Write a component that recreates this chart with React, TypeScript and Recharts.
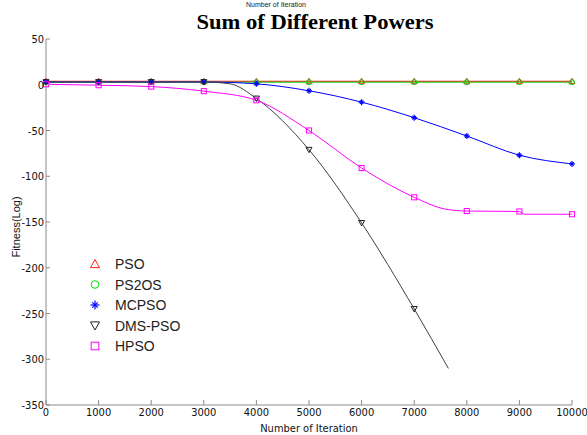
import React from "react";
import { LineChart, Line, XAxis, YAxis } from "recharts";

const title = "Sum of Different Powers";
const xAxisTitle = "Number of Iteration";
const yAxisTitle = "Fitness(Log)";

const xTicks = [0, 1000, 2000, 3000, 4000, 5000, 6000, 7000, 8000, 9000, 10000];
const yTicks = [50, 0, -50, -100, -150, -200, -250, -300, -350];

const iterations = [0, 1000, 2000, 3000, 4000, 5000, 6000, 7000, 8000, 9000, 10000];
const psoValues = [3.8, 3.8, 3.8, 3.8, 3.8, 3.8, 3.8, 3.8, 3.8, 3.8, 3.8];
const ps2osValues = [2.8, 2.8, 2.8, 2.8, 2.8, 2.8, 2.8, 2.8, 2.8, 2.8, 2.8];
const mcpsoValues = [3, 3, 3, 3, 1, -6.6, -19, -36, -56, -77, -86.5];

const dmsIterations = [0, 1000, 2000, 3000, 3500, 4000, 5000, 6000, 7000, 7650];
const dmsValues = [3, 3, 3, 3, 1, -15, -71, -151, -245, -310];

const hpsoIterations = [0, 1000, 2000, 3000, 4000, 5000, 6000, 7000, 7600, 8000, 9000, 9100, 10000];
const hpsoValues = [0.5, -0.5, -2, -7, -17, -50, -91, -123, -136, -138, -138.5, -141.5, -141.5];

const seriesNames = ["PSO", "PS2OS", "MCPSO", "DMS-PSO", "HPSO"];
const seriesColors = ["#ff0000", "#00d000", "#0000ff", "#404040", "#ff00ff"];
const markerColors = ["#ff2020", "#00e000", "#0000ff", "#202020", "#ff00ff"];
const markerShapes = ["triangleUp", "circle", "star", "triangleDown", "square"];

const toRows = (xs: number[], ys: number[]) => xs.map((x, i) => ({ iteration: x, value: ys[i] }));

const psoData = toRows(iterations, psoValues);
const ps2osData = toRows(iterations, ps2osValues);
const mcpsoData = toRows(iterations, mcpsoValues);
const dmsData = toRows(dmsIterations, dmsValues);
const hpsoData = toRows(hpsoIterations, hpsoValues);
const allData = [psoData, ps2osData, mcpsoData, dmsData, hpsoData];

const TICK_FONT = "'Liberation Sans Narrow', 'DejaVu Sans Condensed', 'Liberation Sans', Arial, sans-serif";

function Marker({ shape, cx, cy, color, s }: { shape: string; cx: number; cy: number; color: string; s: number }) {
  const h = s / 2;
  switch (shape) {
    case "triangleUp":
      return <polygon points={`${cx},${cy - h} ${cx + h},${cy + h * 0.8} ${cx - h},${cy + h * 0.8}`} fill="none" stroke={color} strokeWidth={1} />;
    case "triangleDown":
      return <polygon points={`${cx},${cy + h} ${cx + h},${cy - h * 0.8} ${cx - h},${cy - h * 0.8}`} fill="none" stroke={color} strokeWidth={1} />;
    case "circle":
      return <circle cx={cx} cy={cy} r={h * 0.85} fill="none" stroke={color} strokeWidth={1} />;
    case "square":
      return <rect x={cx - h * 0.85} y={cy - h * 0.85} width={h * 1.7} height={h * 1.7} fill="none" stroke={color} strokeWidth={1} />;
    case "star":
      return (
        <g stroke={color} strokeWidth={1.2}>
          <line x1={cx - h} y1={cy} x2={cx + h} y2={cy} />
          <line x1={cx} y1={cy - h} x2={cx} y2={cy + h} />
          <line x1={cx - h * 0.6} y1={cy - h * 0.6} x2={cx + h * 0.6} y2={cy + h * 0.6} />
          <line x1={cx - h * 0.6} y1={cy + h * 0.6} x2={cx + h * 0.6} y2={cy - h * 0.6} />
        </g>
      );
    default:
      return null;
  }
}

const makeDot = (idx: number) => (props: any) => {
  const { cx, cy, payload, index } = props;
  if (payload.iteration % 1000 !== 0 || cx == null || cy == null) return <g key={`d${idx}-${index}`} />;
  return (
    <g key={`d${idx}-${index}`}>
      <Marker shape={markerShapes[idx]} cx={cx} cy={cy} color={markerColors[idx]} s={6} />
    </g>
  );
};

const XTick = (props: any) => {
  const { x, y, payload } = props;
  return (
    <g>
      <line x1={x} y1={y} x2={x} y2={y - 5} stroke="#8c8c8c" />
      <text x={x} y={y + 11} textAnchor="middle" fontFamily={TICK_FONT} fontSize={11} fill="#111">
        {payload.value}
      </text>
    </g>
  );
};

const YTick = (props: any) => {
  const { x, y, payload } = props;
  return (
    <g>
      <line x1={x} y1={y} x2={x + 4} y2={y} stroke="#8c8c8c" />
      <text x={x - 2} y={y + 4} textAnchor="end" fontFamily={TICK_FONT} fontSize={11} fill="#111">
        {payload.value}
      </text>
    </g>
  );
};

export default function App() {
  return (
    <div style={{ position: "absolute", left: 0, top: 0, width: 587, height: 435, background: "#fff" }}>
      <LineChart width={587} height={435} margin={{ top: 39, right: 15, bottom: 0, left: 0 }}>
        <XAxis
          dataKey="iteration"
          type="number"
          domain={[0, 10000]}
          ticks={xTicks}
          interval={0}
          height={30}
          tickSize={0}
          tickMargin={0}
          tickLine={false}
          axisLine={{ stroke: "#8c8c8c" }}
          tick={XTick}
          allowDuplicatedCategory={false}
        />
        <YAxis
          type="number"
          domain={[-350, 50]}
          ticks={yTicks}
          interval={0}
          width={46}
          tickSize={0}
          tickMargin={0}
          tickLine={false}
          axisLine={{ stroke: "#8c8c8c" }}
          tick={YTick}
          allowDataOverflow
        />
        {allData.map((d, i) => (
          <Line
            key={seriesNames[i]}
            data={d}
            dataKey="value"
            name={seriesNames[i]}
            type="monotone"
            stroke={seriesColors[i]}
            strokeWidth={1}
            dot={makeDot(i)}
            activeDot={false}
            isAnimationActive={false}
          />
        ))}
      </LineChart>
      <svg width={587} height={435} style={{ position: "absolute", left: 0, top: 0, pointerEvents: "none" }}>
        <text x={276} y={7} textAnchor="middle" fontFamily="'Liberation Sans', Arial, sans-serif" fontSize={7} fill="#222">
          {xAxisTitle}
        </text>
        <text
          x={315}
          y={29}
          textAnchor="middle"
          fontFamily="'Liberation Serif', 'Times New Roman', serif"
          fontWeight="bold"
          fontSize={22}
          textLength={237}
          lengthAdjust="spacingAndGlyphs"
          fill="#000"
        >
          {title}
        </text>
        <text x={309} y={432} textAnchor="middle" fontFamily={TICK_FONT} fontSize={11} fill="#111">
          {xAxisTitle}
        </text>
        <text
          x={0}
          y={0}
          transform="translate(20,227) rotate(-90)"
          textAnchor="middle"
          fontFamily="'Liberation Sans', Arial, sans-serif"
          fontSize={11}
          fill="#111"
        >
          {yAxisTitle}
        </text>
        {seriesNames.map((name, i) => {
          const cy = 264 + i * 20.5;
          return (
            <g key={name}>
              <Marker shape={markerShapes[i]} cx={95} cy={cy} color={markerColors[i]} s={9} />
              <text x={115} y={cy + 5} fontFamily="'Liberation Sans', Arial, sans-serif" fontSize={14} fill="#222">
                {name}
              </text>
            </g>
          );
        })}
      </svg>
    </div>
  );
}
